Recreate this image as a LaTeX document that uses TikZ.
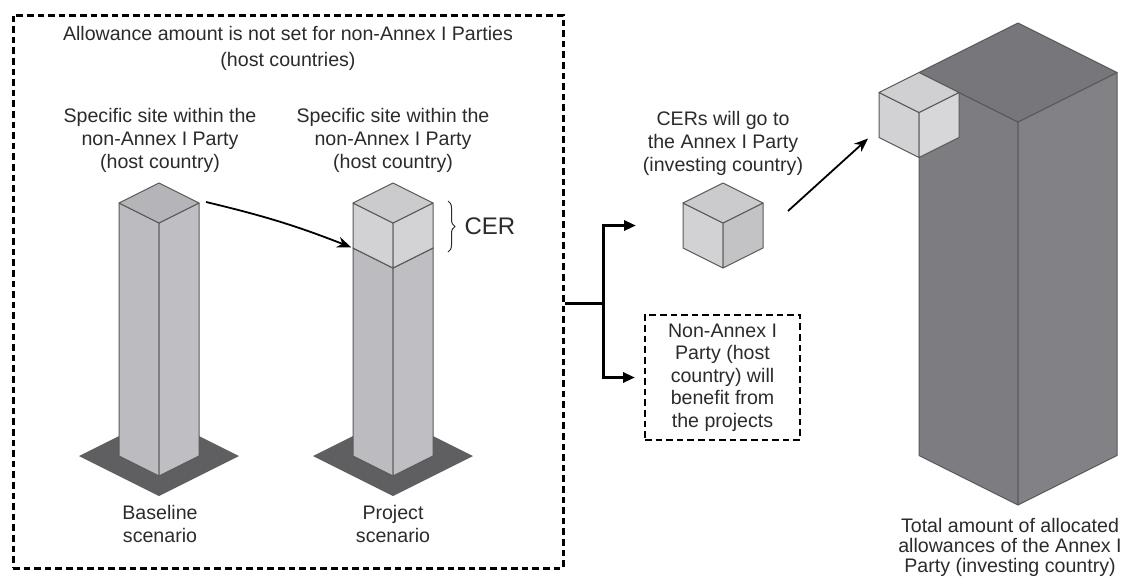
\documentclass[tikz,border=0pt]{standalone}
\usepackage{fontspec}
\setmainfont{Liberation Sans}
\usetikzlibrary{arrows.meta, positioning, calc, fit, decorations.pathreplacing}

\definecolor{ink}{HTML}{2B2B2B}
\definecolor{pillar}{HTML}{BBBBC0}
\definecolor{pillartop}{HTML}{B5B5B9}
\definecolor{cerface}{HTML}{D2D2D5}
\definecolor{certop}{HTML}{CBCBCE}
\definecolor{footprint}{HTML}{5F5F62}
\definecolor{quota}{HTML}{7C7C81}
\definecolor{quotatop}{HTML}{77777B}

\tikzset{
    lbl/.style={text=ink, align=center, inner sep=0pt, font=\fontsize{9.8}{11.5}\selectfont},
    outerbox/.style={draw=black, line width=1.5pt, dash pattern=on 3.3pt off 2pt},
    notebox/.style={draw=black, line width=1pt, dash pattern=on 3.3pt off 2pt, align=center, text=ink,
        inner sep=0pt, minimum width=77.5pt, minimum height=62.5pt, font=\fontsize{9.8}{11.2}\selectfont},
    facet/.style={draw=black!65, line width=0.5pt, line join=round},
    arrow/.style={-{Stealth[length=7pt, width=5.5pt]}, line width=0.9pt, black},
    feed/.style={line width=1.5pt, black},
    feedarrow/.style={feed, -{Triangle[length=6pt, width=5pt]}},
    brace/.style={decorate, decoration={brace, amplitude=3.5pt}, line width=0.5pt, draw=ink}
}

% isometric block: name, top vertex, half width, height, top / left / right fill
\newcommand{\isoprism}[7]{%
    \coordinate (#1-t) at (#2);
    \coordinate (#1-l) at ($(#1-t)+(-#3,#3/2)$);
    \coordinate (#1-f) at ($(#1-t)+(0,#3)$);
    \coordinate (#1-r) at ($(#1-t)+(#3,#3/2)$);
    \coordinate (#1-lb) at ($(#1-l)+(0,#4)$);
    \coordinate (#1-fb) at ($(#1-f)+(0,#4)$);
    \coordinate (#1-rb) at ($(#1-r)+(0,#4)$);
    \filldraw[facet, fill=#6] (#1-l) -- (#1-f) -- (#1-fb) -- (#1-lb) -- cycle;
    \filldraw[facet, fill=#7] (#1-f) -- (#1-r) -- (#1-rb) -- (#1-fb) -- cycle;
    \filldraw[facet, fill=#5] (#1-t) -- (#1-l) -- (#1-f) -- (#1-r) -- cycle;
}

\begin{document}
\begin{tikzpicture}[x=0.5pt, y=-0.5pt]
    \useasboundingbox (0,0) rectangle (1130,579);

    % host country frame
    \coordinate (fr-nw) at (13,15);
    \coordinate (fr-se) at (563,568);
    \node[outerbox, fit=(fr-nw)(fr-se), inner sep=0pt] (hostframe) {};
    \node[lbl] (allowance) at (288,48.5) {Allowance amount is not set for non-Annex I Parties\\[1.3pt](host countries)};

    % footprints under the two sites
    \fill[footprint] (79,456) -- (159,416) -- (239,456) -- (159,496) -- cycle;
    \fill[footprint] (313,456) -- (393,416) -- (473,456) -- (393,496) -- cycle;

    % baseline and project sites
    \isoprism{base}{159,183}{40}{253}{pillartop}{pillar}{pillar!96!white}
    \isoprism{proj}{393,228}{40}{208}{pillartop}{pillar}{pillar!96!white}
    \isoprism{cer}{393,183}{40}{45}{certop}{cerface}{cerface!97!white}

    \node[lbl] (base-cap) at (160,140) {Specific site within the\\non-Annex I Party\\(host country)};
    \node[lbl] (proj-cap) at (393,140) {Specific site within the\\non-Annex I Party\\(host country)};
    \node[lbl] (base-name) at (160,524) {Baseline\\scenario};
    \node[lbl] (proj-name) at (393,524) {Project\\scenario};

    \draw[brace] ($(cer-r)+(15,-2)$) -- ($(cer-rb)+(15,4)$)
        node[lbl, midway, right=8pt, font=\fontsize{12}{12}\selectfont] (cer-name) {CER};
    \draw[arrow, shorten >=1pt] ($(base-r)+(7,-1)$) to[bend left=4] (cer-lb);

    % credits leaving the host country
    \isoprism{cube}{723,183}{40}{45}{certop}{cerface}{cerface!93!black}
    \node[lbl] (transfer) at (723,143) {CERs will go to\\the Annex I Party\\(investing country)};
    \node[notebox] (benefit) at (722.5,377.5) {Non-Annex I\\Party (host\\country) will\\benefit from\\the projects};

    \coordinate (split) at (603,303);
    \draw[feed] (hostframe.east |- split) -- (split);
    \draw[feedarrow, shorten >=23.5pt] (split) |- ($(cube-l)!0.5!(cube-lb)$);
    \draw[feedarrow, shorten >=4.5pt] (split) |- (benefit.west);

    % allowances of the investing country
    \isoprism{big}{1018,23}{99}{383}{quotatop}{quota}{quota!96!white}
    \isoprism{gain}{big-l}{40}{45}{certop!90!white}{cerface}{cerface!90!white}
    \node[lbl, font=\fontsize{9.8}{10}\selectfont] (quota-name) at (1010,547) {Total amount of allocated\\allowances of the Annex I\\Party (investing country)};

    \coordinate (gain-in) at ($(gain-lb)+(-11,1)$);
    \draw[arrow] ($(cube-r)+(25,8)$) -- (gain-in);
\end{tikzpicture}
\end{document}
